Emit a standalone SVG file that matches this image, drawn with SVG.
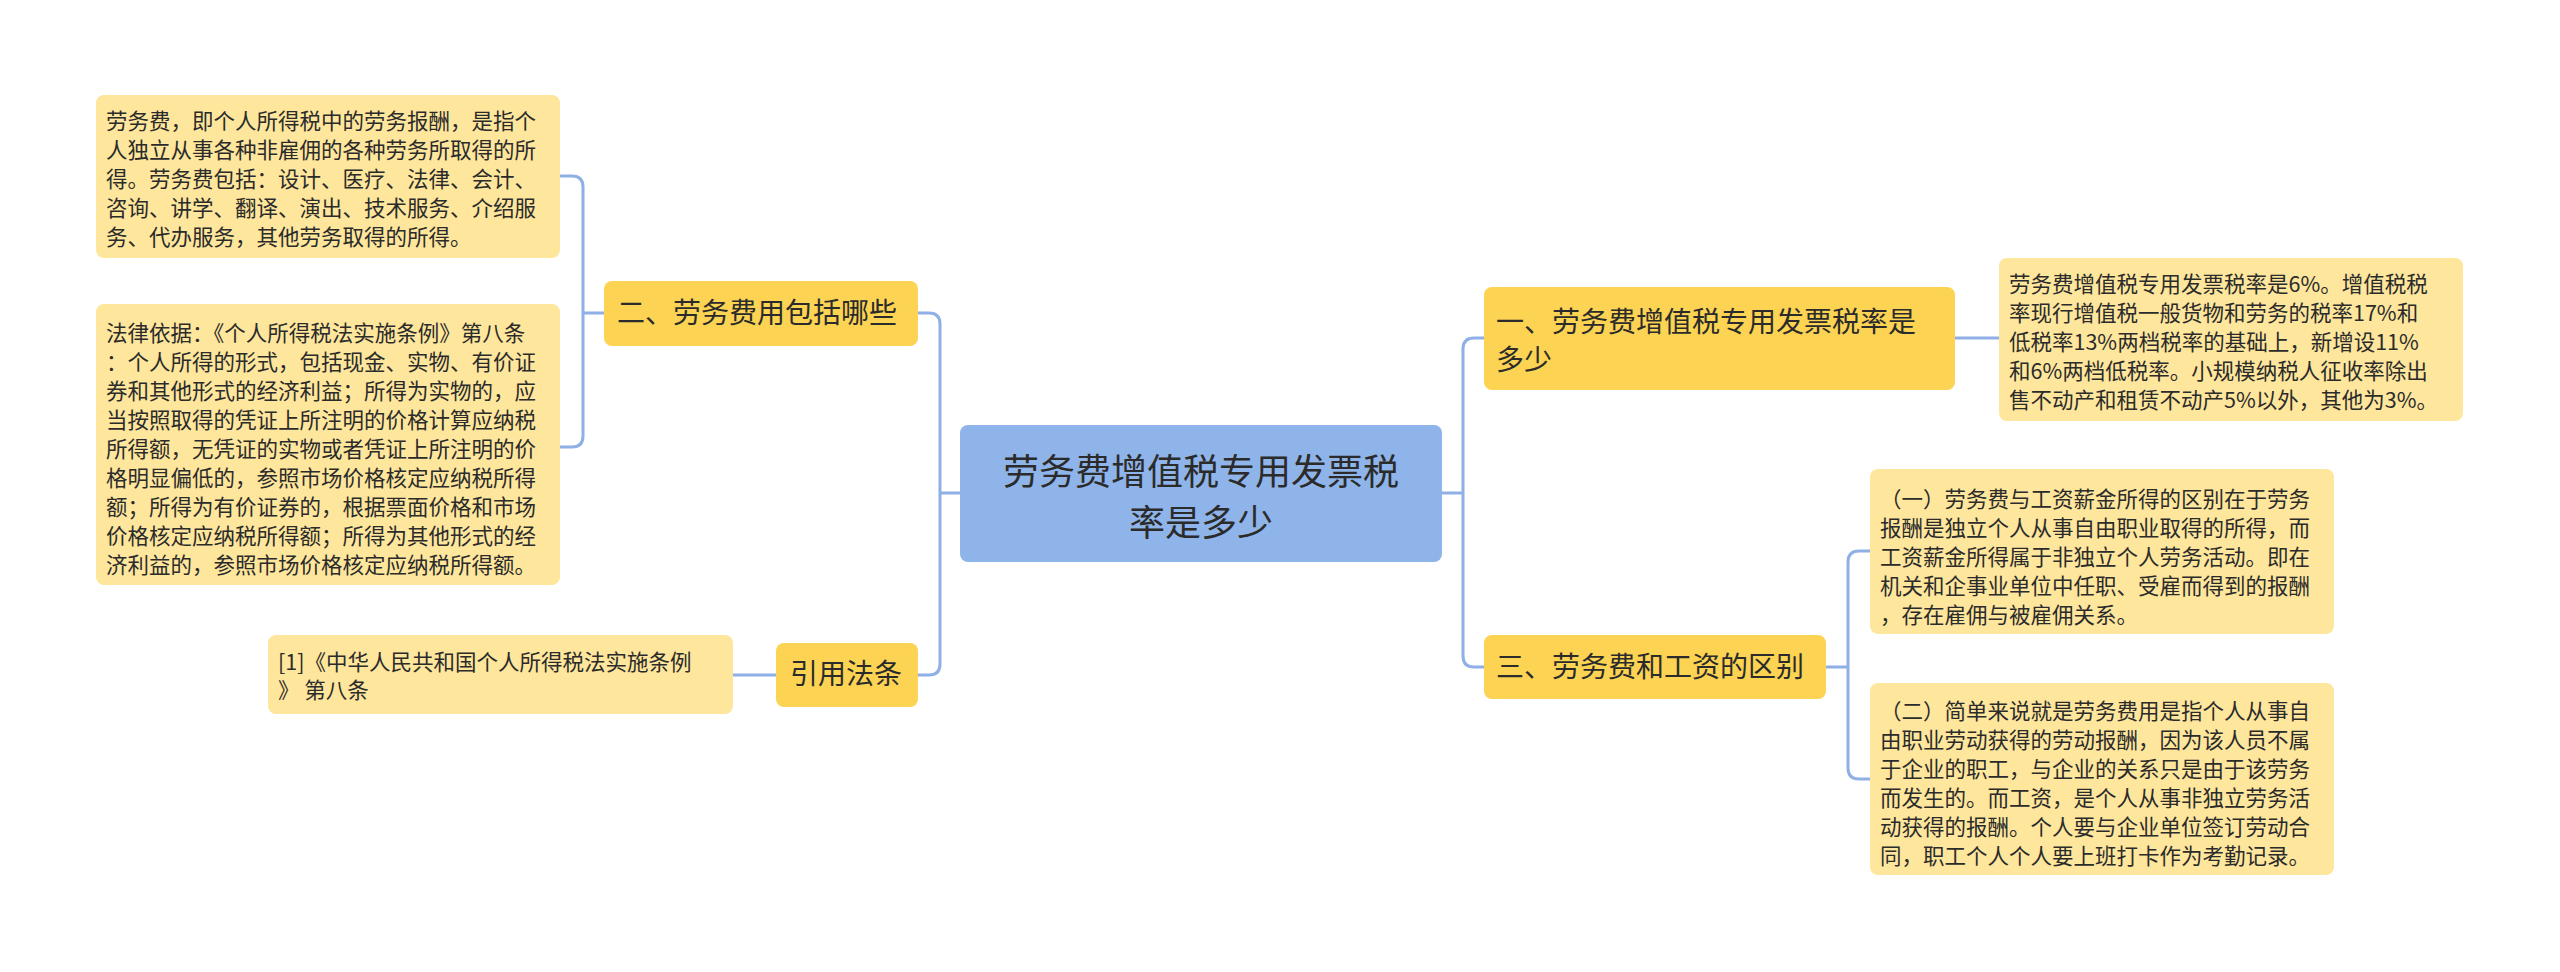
<svg xmlns="http://www.w3.org/2000/svg" width="2560" height="972" viewBox="0 0 2560 972">
<style>
text{font-family:"Noto Sans CJK SC","Noto Sans",sans-serif;fill:#2b2b2b}
.leaf rect{fill:#fee69c}
.br rect{fill:#fcd352}
.lt{font-size:21.5px}
.bt{font-size:28px}
.ct{font-size:36px;text-anchor:middle}
#links path{fill:none;stroke:#8fb0e6;stroke-width:3}
</style>
<rect width="2560" height="972" fill="#fff"/>
<g id="links">
<path d="M960,493 H940 M940,493 V324 Q940,313 929,313 H918 M940,493 V664 Q940,675 929,675 H918"/>
<path d="M604,313 H583 M583,313 V187 Q583,176 572,176 H560 M583,313 V436 Q583,447 572,447 H560"/>
<path d="M776,675 H733"/>
<path d="M1442,493 H1463 M1463,493 V349 Q1463,338 1474,338 H1484 M1463,493 V656 Q1463,667 1474,667 H1484"/>
<path d="M1955,338 H1999"/>
<path d="M1826,667 H1848 M1848,667 V562 Q1848,551 1859,551 H1870 M1848,667 V768 Q1848,779 1859,779 H1870"/>
</g>
<g id="center"><rect x="960" y="425" width="482" height="137" rx="8" fill="#8fb4ea"/>
<text class="ct" x="1201" y="485">劳务费增值税专用发票税</text><text class="ct" x="1201" y="536">率是多少</text></g>
<g id="n2" class="br"><rect x="604" y="281" width="314" height="65" rx="8"/><text class="bt" x="617" y="323">二、劳务费用包括哪些</text></g>
<g id="nref" class="br"><rect x="776" y="643" width="142" height="64" rx="8"/><text class="bt" x="790" y="684">引用法条</text></g>
<g id="n1" class="br"><rect x="1484" y="287" width="471" height="103" rx="8"/><text class="bt" x="1496" y="332">一、劳务费增值税专用发票税率是</text><text class="bt" x="1496" y="370">多少</text></g>
<g id="n3" class="br"><rect x="1484" y="635" width="342" height="64" rx="8"/><text class="bt" x="1496" y="677">三、劳务费和工资的区别</text></g>
<g id="l1" class="leaf"><rect x="96" y="95" width="464" height="163" rx="8"/>
<text class="lt" x="106" y="129">劳务费，即个人所得税中的劳务报酬，是指个</text>
<text class="lt" x="106" y="158">人独立从事各种非雇佣的各种劳务所取得的所</text>
<text class="lt" x="106" y="187">得。劳务费包括：设计、医疗、法律、会计、</text>
<text class="lt" x="106" y="216">咨询、讲学、翻译、演出、技术服务、介绍服</text>
<text class="lt" x="106" y="245">务、代办服务，其他劳务取得的所得。</text></g>
<g id="l2" class="leaf"><rect x="96" y="304" width="464" height="281" rx="8"/>
<text class="lt" x="106" y="341">法律依据：《个人所得税法实施条例》第八条</text>
<text class="lt" x="106" y="370">：个人所得的形式，包括现金、实物、有价证</text>
<text class="lt" x="106" y="399">券和其他形式的经济利益；所得为实物的，应</text>
<text class="lt" x="106" y="428">当按照取得的凭证上所注明的价格计算应纳税</text>
<text class="lt" x="106" y="457">所得额，无凭证的实物或者凭证上所注明的价</text>
<text class="lt" x="106" y="486">格明显偏低的，参照市场价格核定应纳税所得</text>
<text class="lt" x="106" y="515">额；所得为有价证券的，根据票面价格和市场</text>
<text class="lt" x="106" y="544">价格核定应纳税所得额；所得为其他形式的经</text>
<text class="lt" x="106" y="573">济利益的，参照市场价格核定应纳税所得额。</text></g>
<g id="l3" class="leaf"><rect x="268" y="635" width="465" height="79" rx="8"/>
<text class="lt" x="278" y="670">[1]《中华人民共和国个人所得税法实施条例</text>
<text class="lt" x="278" y="698">》 第八条</text></g>
<g id="r1" class="leaf"><rect x="1999" y="258" width="464" height="163" rx="8"/>
<text class="lt" x="2009" y="292">劳务费增值税专用发票税率是6%。增值税税</text>
<text class="lt" x="2009" y="321">率现行增值税一般货物和劳务的税率17%和</text>
<text class="lt" x="2009" y="350">低税率13%两档税率的基础上，新增设11%</text>
<text class="lt" x="2009" y="379">和6%两档低税率。小规模纳税人征收率除出</text>
<text class="lt" x="2009" y="408">售不动产和租赁不动产5%以外，其他为3%。</text></g>
<g id="r2" class="leaf"><rect x="1870" y="469" width="464" height="165" rx="8"/>
<text class="lt" x="1880" y="507">（一）劳务费与工资薪金所得的区别在于劳务</text>
<text class="lt" x="1880" y="536">报酬是独立个人从事自由职业取得的所得，而</text>
<text class="lt" x="1880" y="565">工资薪金所得属于非独立个人劳务活动。即在</text>
<text class="lt" x="1880" y="594">机关和企事业单位中任职、受雇而得到的报酬</text>
<text class="lt" x="1880" y="623">，存在雇佣与被雇佣关系。</text></g>
<g id="r3" class="leaf"><rect x="1870" y="683" width="464" height="192" rx="8"/>
<text class="lt" x="1880" y="719">（二）简单来说就是劳务费用是指个人从事自</text>
<text class="lt" x="1880" y="748">由职业劳动获得的劳动报酬，因为该人员不属</text>
<text class="lt" x="1880" y="777">于企业的职工，与企业的关系只是由于该劳务</text>
<text class="lt" x="1880" y="806">而发生的。而工资，是个人从事非独立劳务活</text>
<text class="lt" x="1880" y="835">动获得的报酬。个人要与企业单位签订劳动合</text>
<text class="lt" x="1880" y="864">同，职工个人个人要上班打卡作为考勤记录。</text></g>
</svg>
